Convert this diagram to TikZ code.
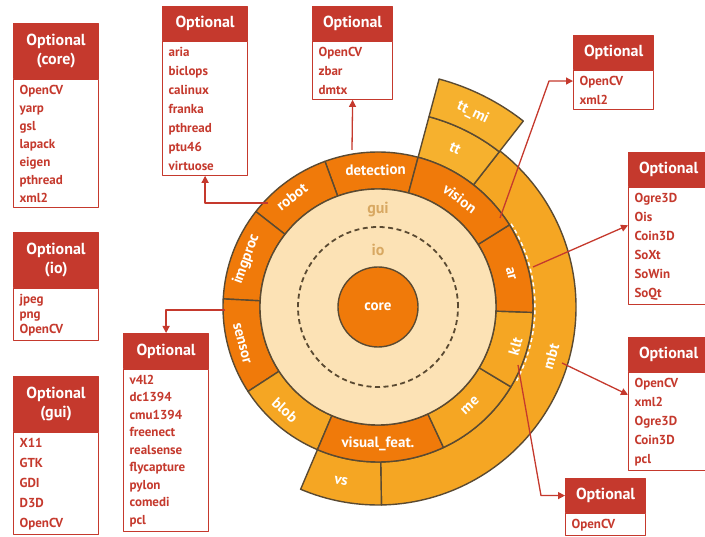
\documentclass[tikz,border=0pt]{standalone}
\usepackage{fontspec}
\setmainfont{PT Sans}
\usetikzlibrary{positioning,arrows.meta}
\definecolor{optred}{HTML}{C5392D}
\definecolor{dorg}{HTML}{F07A0A}
\definecolor{yorg}{HTML}{F5A623}
\definecolor{ttyel}{HTML}{F6B12E}
\definecolor{ringbeige}{HTML}{FCE2B5}
\definecolor{edge}{HTML}{5A4A32}
\definecolor{guitan}{HTML}{D8A862}
\tikzset{
  hdr/.style={draw=optred, fill=optred, text=white, font=\bfseries\fontsize{16}{19}\selectfont,
    minimum width=85pt, minimum height=34pt, inner sep=2pt, align=center, line width=1.2pt, anchor=north west},
  lst/.style={draw=optred, fill=white, text=optred, font=\bfseries\fontsize{13}{19}\selectfont,
    text width=73pt, inner xsep=6pt, inner ysep=5pt, align=left, line width=1.2pt},
  seg/.style={draw=edge, line width=1.4pt},
  wlab/.style={text=white, font=\bfseries\fontsize{15}{15}\selectfont},
  arr/.style={optred, line width=1.3pt, ->}
}
\begin{document}
\begin{tikzpicture}[x=1pt, y=1pt, >={Triangle[length=7pt,width=7pt]}, line join=round]
\useasboundingbox (0,0) rectangle (705,537);

% the wheel
\begin{scope}[shift={(378,230)}]
  % outer ring
  \foreach \a/\b/\r/\R/\c in {-89/52/155/198/yorg, -113/-89/155/198/yorg, 52/75/155/197/ttyel, 52/75/197/236/ttyel}
    \filldraw[seg, fill=\c] (\a:\r pt) arc[start angle=\a, end angle=\b, radius=\r pt]
      -- (\b:\R pt) arc[start angle=\b, end angle=\a, radius=\R pt] -- cycle;
  % modules
  \foreach \a/\b/\c in {75/110/dorg, 110/142/dorg, 142/177/dorg, 177/213/dorg, 213/247/yorg,
      247/295/dorg, 295/329/yorg, 329/358/yorg, 358/392/dorg, 392/435/dorg}
    \filldraw[seg, fill=\c] (\a:118pt) arc[start angle=\a, end angle=\b, radius=118pt]
      -- (\b:155pt) arc[start angle=\b, end angle=\a, radius=155pt] -- cycle;
  \draw[white, line width=1.5pt, dash pattern=on 4pt off 3pt] (32:157pt) arc[start angle=32, end angle=-28, radius=157pt];
  \filldraw[seg, fill=ringbeige] (0,0) circle[radius=118pt];
  \draw[edge, line width=1.8pt, dash pattern=on 5pt off 3.5pt] (0,0) circle[radius=80pt];
  \filldraw[seg, fill=dorg] (0,0) circle[radius=40pt];
  \node[wlab] (wcore) at (0,0) {core};
  \node[text=guitan, font=\bfseries\fontsize{16}{16}\selectfont] (wio) at (0,57) {io};
  \node[text=guitan, font=\bfseries\fontsize{16}{16}\selectfont] (wgui) at (0,97) {gui};
  \foreach \ang/\rad/\rot/\nm/\txt in {91/137/1/wdet/detection, 53/136/-37/wvision/vision, 14/137/-76/war/ar,
      -16/143/74/wklt/klt, -47/135/43/wme/me, -90/137/0/wvf/visual\_feat., 228/139/-42/wblob/blob,
      195/141/-75/wsensor/sensor, 160/140/70/wimg/imgproc, 128/140/38/wrobot/robot,
      -16/180/74/wmbt/mbt, -102/178/-12/wvs/vs, 64/176/-26/wtt/tt, 64/216/-26/wttmi/tt\_mi}
    \node[wlab, rotate=\rot] (\nm) at (\ang:\rad pt) {\txt};
\end{scope}

% optional dependencies
\node[hdr, minimum height=55pt] (hcore) at (13,514) {Optional\\(core)};
\node[lst, below=0pt of hcore, font=\bfseries\fontsize{13}{18}\selectfont] (lcore) {OpenCV\\yarp\\gsl\\lapack\\eigen\\pthread\\xml2};
\node[hdr, minimum height=55pt] (hio) at (13,305) {Optional\\(io)};
\node[lst, below=0pt of hio, font=\bfseries\fontsize{13}{15}\selectfont] (lio) {jpeg\\png\\OpenCV};
\node[hdr, minimum height=55pt] (hgui) at (13,161) {Optional\\(gui)};
\node[lst, below=0pt of hgui, font=\bfseries\fontsize{13}{20}\selectfont] (lgui) {X11\\GTK\\GDI\\D3D\\OpenCV};
\node[hdr] (hrobot) at (162,531) {Optional};
\node[lst, below=0pt of hrobot] (lrobot) {aria\\biclops\\calinux\\franka\\pthread\\ptu46\\virtuose};
\node[hdr, minimum width=80pt] (hdet) at (312,531) {Optional};
\node[lst, text width=68pt, below=0pt of hdet] (ldet) {OpenCV\\zbar\\dmtx};
\node[hdr, minimum width=80pt] (hvis) at (573,502) {Optional};
\node[lst, text width=68pt, below=0pt of hvis] (lvis) {OpenCV\\xml2};
\node[hdr, minimum width=80pt] (har) at (628,385) {Optional};
\node[lst, text width=68pt, below=0pt of har] (lar) {Ogre3D\\Ois\\Coin3D\\SoXt\\SoWin\\SoQt};
\node[hdr, minimum width=80pt] (hmbt) at (628,200) {Optional};
\node[lst, text width=68pt, below=0pt of hmbt] (lmbt) {OpenCV\\xml2\\Ogre3D\\Coin3D\\pcl};
\node[hdr, minimum width=80pt] (hklt) at (565,59) {Optional};
\node[lst, text width=68pt, below=0pt of hklt] (lklt) {OpenCV};
\node[hdr, minimum height=35pt] (hsen) at (123,204) {Optional};
\node[lst, below=0pt of hsen, font=\bfseries\fontsize{13}{17.5}\selectfont] (lsen) {v4l2\\dc1394\\cmu1394\\freenect\\realsense\\flycapture\\pylon\\comedi\\pcl};

% links
\coordinate (rbt) at (268,334);
\coordinate (dett) at (352,387);
\coordinate (sns) at (225,227);
\coordinate (vis) at (500,319);
\coordinate (arpt) at (533,270);
\coordinate (mbtpt) at (562,174);
\coordinate (kltpt) at (518,172);
\draw[arr] (rbt) -| (lrobot.south);
\draw[arr] (dett) -- (ldet.south);
\draw[arr] (sns) -| (hsen.north);
\draw[arr] (vis) -- ([xshift=-24pt,yshift=9pt]lvis.west) -- ([yshift=9pt]lvis.west);
\draw[arr] (arpt) -- ([yshift=21pt]lar.west);
\draw[arr] (mbtpt) -- ([yshift=27pt]lmbt.west);
\draw[arr] (kltpt) -- ([xshift=-24pt]hklt.west) -- (hklt.west);
\end{tikzpicture}
\end{document}
